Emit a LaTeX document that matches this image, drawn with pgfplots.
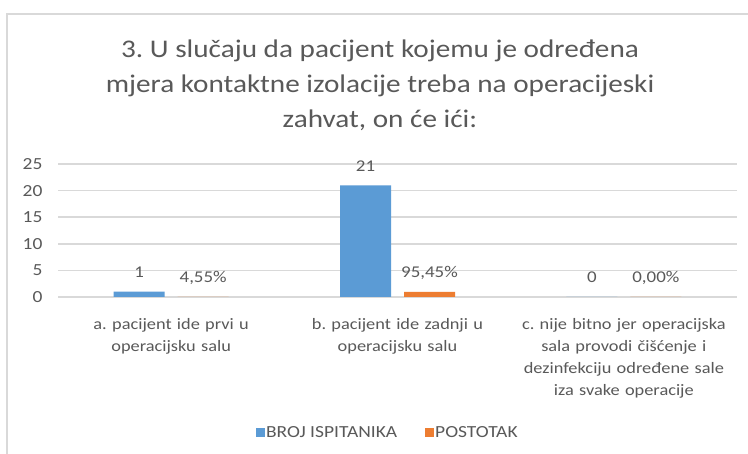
\documentclass[border=0pt]{standalone}
\usepackage{fontspec}
\setmainfont{Carlito}[FakeStretch=1.15]
\usepackage{pgfplots}
\pgfplotsset{compat=1.18}
\definecolor{cblue}{HTML}{5B9BD5}
\definecolor{corange}{HTML}{ED7D31}
\definecolor{ctext}{HTML}{595959}
\definecolor{cgrid}{HTML}{D9D9D9}
\frenchspacing
\begin{document}
\begin{tikzpicture}[x=1bp,y=1bp]
\useasboundingbox (0,0) rectangle (748,454);
\fill[white] (0,0) rectangle (748,454);
\draw[cgrid, line width=1.5bp] (7,0) -- (7,440) -- (748,440);
\node[align=center, text=ctext, font=\fontsize{25.5}{35}\selectfont] at (380,369) {3. U slučaju da pacijent kojemu je određena\\ mjera kontaktne izolacije treba na operacijeski\\ zahvat, on će ići:};
\begin{axis}[
  at={(58bp,157bp)}, anchor=south west,
  scale only axis, width=679bp, height=133bp,
  xmin=-0.5, xmax=2.5, ymin=0, ymax=25,
  ybar=13bp, bar width=51bp,
  ytick={0,5,...,25},
  xtick={0,1,2},
  xticklabels={{a. pacijent ide prvi u\\ operacijsku salu},{b. pacijent ide zadnji u\\ operacijsku salu},{c. nije bitno jer operacijska\\ sala provodi čišćenje i\\ dezinfekciju određene sale\\ iza svake operacije}},
  axis line style={draw=none},
  major tick length=0pt,
  ymajorgrids, grid style={cgrid, line width=1.5bp},
  /pgf/number format/assume math mode=true,
  yticklabel style={anchor=east, xshift=-12bp, text=ctext, font=\fontsize{17}{20}\selectfont},
  xticklabel style={anchor=north, text width=222bp, align=center, yshift=-18bp, text=ctext, font=\fontsize{16}{22}\selectfont},
  point meta=explicit symbolic,
  nodes near coords,
  every node near coord/.append style={anchor=base, yshift=14bp, text=ctext, font=\fontsize{16.5}{20}\selectfont},
  legend columns=2,
  legend style={at={(0.485,-1.0226)}, anchor=center, draw=none, fill=none, font=\fontsize{17}{20}\selectfont, text=ctext,
    nodes={inner xsep=1.5bp},
    /tikz/every even column/.append style={column sep=26bp}},
  legend image code/.code={\fill[#1] (0bp,-4.5bp) rectangle (9bp,4.5bp);},
]
\addplot[fill=cblue, draw=none] coordinates {(0,1) [1] (1,21) [21] (2,0) [0]};
\addplot[fill=corange, draw=none] coordinates {(0,0.0455) [{4,55\%}] (1,0.9545) [{95,45\%}] (2,0) [{0,00\%}]};
\legend{BROJ ISPITANIKA, POSTOTAK}
\end{axis}
\end{tikzpicture}
\end{document}
